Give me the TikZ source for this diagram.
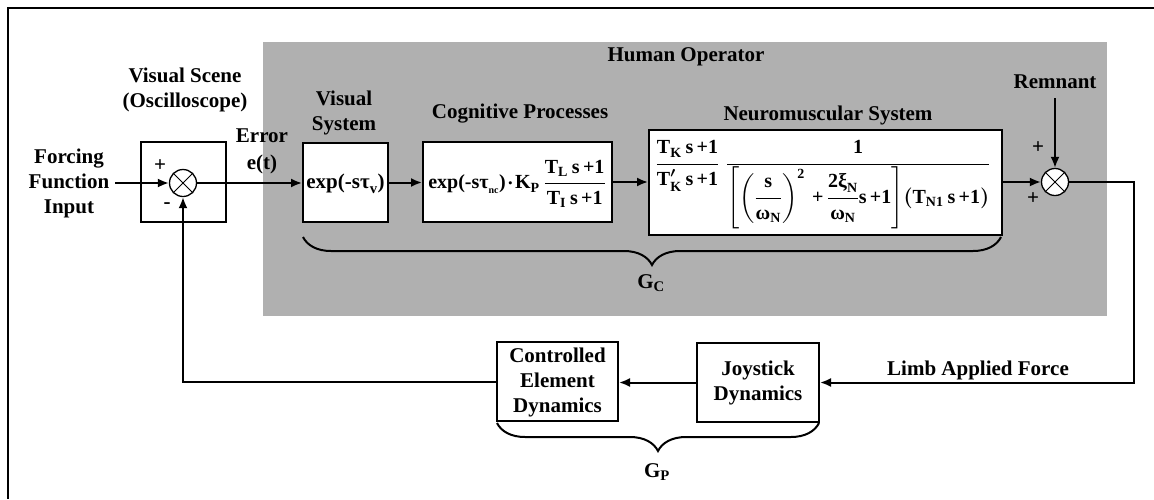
\documentclass[tikz,border=0pt]{standalone}
\usepackage{amsmath}
\usepackage{fontspec}
\setmainfont{Liberation Serif}
\usetikzlibrary{arrows.meta,decorations.pathreplacing}
\definecolor{hogray}{RGB}{176,176,176}
\newcommand{\mytx}[1]{\text{#1}}
\begin{document}
\begin{tikzpicture}[x=1pt,y=-1pt,
  lbl/.style={font=\bfseries\fontsize{21}{25}\selectfont, align=center, inner sep=0pt},
  mth/.style={font=\bfseries\boldmath\fontsize{21}{25}\selectfont, inner sep=0pt},
  fml/.style={font=\bfseries\boldmath\fontsize{20}{24}\selectfont, inner sep=0pt},
  blk/.style={draw, line width=2pt, fill=white, inner sep=0pt},
  sumj/.style={draw, circle, line width=1.3pt, minimum size=27pt, inner sep=0pt, fill=white},
  sig/.style={line width=2pt, -{Latex[length=11pt,width=9pt]}},
  wire/.style={line width=2pt},
  xline/.style={line width=0.9pt},
  brc/.style={line width=2pt, decorate, decoration={brace, mirror, amplitude=28pt}}
]
\useasboundingbox (0,0) rectangle (1154,499);
% outer frame
\draw[wire] (1154,8) -- (8,8) -- (8,499);
% human operator region
\node[fill=hogray, minimum width=844pt, minimum height=274pt, inner sep=0pt, anchor=north west] (ho) at (263,42) {};
\node[lbl] (holbl) at (686,57) {Human Operator};

% visual scene
\node[lbl] (vslbl) at (185,90) {Visual Scene\\(Oscilloscope)};
\node[blk, minimum width=85pt, minimum height=80pt] (vs) at (183.5,182) {};
\node[sumj] (s1) at (183,183) {};
\draw[xline] (s1.north east) -- (s1.south west) (s1.north west) -- (s1.south east);
\node[lbl] (p1) at (160,166) {+};
\node[lbl] (m1) at (167,206) {-};

\node[lbl] (ff) at (69,183) {Forcing\\Function\\Input};
\node[lbl, font=\bfseries\fontsize{21}{27}\selectfont] (err) at (262,151) {Error\\e(t)};

% visual system
\node[lbl] (vsyslbl) at (344,112.5) {Visual\\System};
\node[blk, minimum width=85pt, minimum height=79pt] (vsys) at (345.5,182.5) {};
\node[mth] (vsysf) at (345.5,184) {$\mytx{exp(-sτ}_{\mytx{v}}\mytx{)}$};

% cognitive
\node[lbl] (coglbl) at (520,114) {Cognitive Processes};
\node[blk, minimum width=189pt, minimum height=80pt] (cog) at (517.5,182) {};
\node[fml] (cogf) at (517,184) {$\mytx{exp(-sτ}_{\scriptscriptstyle\mytx{nc}}\mytx{)}\!\cdot\!\mytx{K}_{\mytx{P}}\,\dfrac{\mytx{T}_{\mytx{L}}\,\mytx{s\thinspace+1}}{\mytx{T}_{\mytx{I}}\,\mytx{s\thinspace+1}}$};

% neuromuscular
\node[lbl] (nmlbl) at (828,115) {Neuromuscular System};
\node[blk, minimum width=353pt, minimum height=105pt] (nm) at (825.5,182.5) {};
\node[fml] (nmf) at (823,185) {$\dfrac{\mytx{T}_{\mytx{K}}\,\mytx{s\thinspace+1}}{\mytx{T}'_{\mytx{K}}\,\mytx{s\thinspace+1}}\;\dfrac{\mytx{1}}{\left[\left(\dfrac{\mytx{s}}{\mytx{ω}_{\mytx{N}}}\right)^{\mytx{2}}\mytx{\thinspace+\thinspace}\dfrac{\mytx{2ξ}_{\mytx{N}}}{\mytx{ω}_{\mytx{N}}}\mytx{s\thinspace+1}\right]\!\left(\mytx{T}_{\mytx{N1}}\,\mytx{s\thinspace+1}\right)}$};

% second summing junction
\node[sumj] (s2) at (1055,182) {};
\draw[xline] (s2.north east) -- (s2.south west) (s2.north west) -- (s2.south east);
\node[lbl] (rem) at (1055,82) {Remnant};
\node[lbl] (p2) at (1038,148) {+};
\node[lbl] (p3) at (1033,199) {+};

% G_C brace
\coordinate (gcl) at (303,237);
\coordinate (gcr) at (1001,237);
\draw[brc] (gcl) -- (gcr);
\node[mth] (gc) at (651,283) {$\mytx{G}_{\mytx{C}}$};

% plant
\node[blk, minimum width=122pt, minimum height=79pt] (joy) at (758,382.5) {};
\node[lbl] (joylbl) at (758,383) {Joystick\\Dynamics};
\node[blk, minimum width=121pt, minimum height=79pt] (ced) at (557.5,381.5) {};
\node[lbl] (cedlbl) at (557.5,382) {Controlled\\Element\\Dynamics};
\node[lbl] (limb) at (978,370) {Limb Applied Force};
\coordinate (gpl) at (497,423);
\coordinate (gpr) at (819,423);
\draw[brc] (gpl) -- (gpr);
\node[mth] (gp) at (657,472) {$\mytx{G}_{\mytx{P}}$};

% signals
\draw[sig] ([xshift=6pt]ff.east) -- (s1.west);
\draw[sig] (s1.east) -- (vsys.west |- s1.east);
\draw[sig] (vsys.east) -- (cog.west |- vsys.east);
\draw[sig] (cog.east) -- (nm.west |- cog.east);
\draw[sig] (nm.east |- s2.west) -- (s2.west);
\draw[sig] ([yshift=-9pt]rem.south) -- (s2.north);
\coordinate (rc) at (1134,382.5);
\draw[sig] (s2.east) -| (rc) -- (joy.east);
\draw[sig] (joy.west) -- (ced.east |- joy.west);
\draw[sig] (ced.west) -| (s1.south);
\end{tikzpicture}
\end{document}
